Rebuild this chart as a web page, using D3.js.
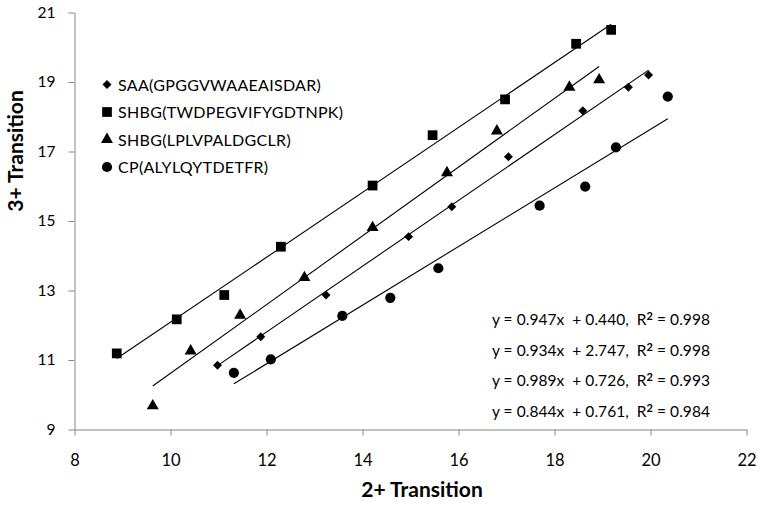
<!DOCTYPE html>
<html>
<head>
<meta charset="utf-8">
<script src="https://cdn.jsdelivr.net/npm/d3@7"></script>
<style>
  body { margin: 0; background: #fff; }
  svg { font-family: Lato, "Open Sans", sans-serif; }
</style>
</head>
<body>
<div id="chart"></div>
<script>
// series names (legend order)
const seriesNames = ["SAA(GPGGVWAAEAISDAR)", "SHBG(TWDPEGVIFYGDTNPK)", "SHBG(LPLVPALDGCLR)", "CP(ALYLQYTDETFR)"];
const shapes = ["diamond", "square", "triangle", "circle"];

// 2+ transition (x) / 3+ transition (y)
const saaX = [10.98, 11.88, 13.24, 14.96, 15.86, 17.04, 18.59, 19.54, 19.96];
const saaY = [10.85, 11.67, 12.87, 14.55, 15.41, 16.85, 18.17, 18.85, 19.20];
const twdX = [8.88, 10.13, 11.12, 12.30, 14.21, 15.46, 16.97, 18.45, 19.18];
const twdY = [11.19, 12.17, 12.87, 14.26, 16.02, 17.47, 18.50, 20.10, 20.50];
const lplX = [9.63, 10.42, 11.45, 12.79, 14.21, 15.76, 16.80, 18.31, 18.93];
const lplY = [9.68, 11.26, 12.29, 13.37, 14.81, 16.39, 17.59, 18.85, 19.06];
const cpX = [11.32, 12.09, 13.58, 14.58, 15.58, 17.69, 18.64, 19.28, 20.36];
const cpY = [10.63, 11.02, 12.27, 12.79, 13.64, 15.44, 15.99, 17.12, 18.58];

// linear fits
const slopes = [0.947, 0.934, 0.989, 0.844];
const intercepts = [0.440, 2.747, 0.726, 0.761];
const r2 = ["0.998", "0.998", "0.993", "0.984"];

const xTicks = [8, 10, 12, 14, 16, 18, 20, 22];
const yTicks = [9, 11, 13, 15, 17, 19, 21];

const series = [
  { xs: saaX, ys: saaY },
  { xs: twdX, ys: twdY },
  { xs: lplX, ys: lplY },
  { xs: cpX, ys: cpY }
];

const W = 762, H = 505;
const svg = d3.select("#chart").append("svg")
  .attr("width", W).attr("height", H);

const x = d3.scaleLinear().domain([8, 22]).range([74.5, 746.5]);
const y = d3.scaleLinear().domain([9, 21]).range([429.5, 12.5]);

const axisColor = "#868686";

// x axis
const gx = svg.append("g")
  .attr("transform", `translate(0,${y(9)})`)
  .call(d3.axisBottom(x).tickValues(xTicks).tickSize(6).tickPadding(19).tickSizeOuter(0));
gx.select(".domain").attr("stroke", axisColor);
gx.selectAll(".tick line").attr("stroke", axisColor);
gx.selectAll("text").attr("font-size", 16.5).attr("fill", "#000").attr("font-family", "Lato");

// y axis
const gy = svg.append("g")
  .attr("transform", `translate(${x(8)},0)`)
  .call(d3.axisLeft(y).tickValues(yTicks).tickSize(6).tickPadding(13).tickSizeOuter(0));
gy.select(".domain").attr("stroke", axisColor);
gy.selectAll(".tick line").attr("stroke", axisColor);
gy.selectAll("text").attr("font-size", 15.5).attr("fill", "#000").attr("font-family", "Lato");

// axis titles
svg.append("text")
  .attr("x", 422).attr("y", 497)
  .attr("text-anchor", "middle")
  .attr("font-size", 21).attr("font-weight", "bold")
  .text("2+ Transition");

svg.append("text")
  .attr("transform", "translate(23,151) rotate(-90)")
  .attr("text-anchor", "middle")
  .attr("font-size", 21).attr("font-weight", "bold")
  .text("3+ Transition");

function symbolFor(shape) {
  if (shape === "diamond") return d3.symbol().type(d3.symbolSquare).size(40)();
  if (shape === "square") return d3.symbol().type(d3.symbolSquare).size(95)();
  if (shape === "triangle") return d3.symbol().type(d3.symbolTriangle).size(62)();
  return d3.symbol().type(d3.symbolCircle).size(82)();
}

// trend lines
series.forEach((s, i) => {
  const x0 = d3.min(s.xs), x1 = d3.max(s.xs);
  svg.append("line")
    .attr("x1", x(x0)).attr("y1", y(slopes[i] * x0 + intercepts[i]))
    .attr("x2", x(x1)).attr("y2", y(slopes[i] * x1 + intercepts[i]))
    .attr("stroke", "#000").attr("stroke-width", 1.1);
});

// points
series.forEach((s, i) => {
  svg.append("g").selectAll("path")
    .data(s.xs.map((v, j) => [v, s.ys[j]]))
    .enter().append("path")
    .attr("d", symbolFor(shapes[i]))
    .attr("transform", d => `translate(${x(d[0])},${y(d[1])})` + (shapes[i] === "diamond" ? " rotate(45)" : ""))
    .attr("fill", "#000");
});

// legend
const legend = svg.append("g");
seriesNames.forEach((name, i) => {
  const ly = 84.5 + i * 27.5;
  legend.append("path")
    .attr("d", symbolFor(shapes[i]))
    .attr("transform", `translate(107,${ly})` + (shapes[i] === "diamond" ? " rotate(45)" : ""))
    .attr("fill", "#000");
  legend.append("text")
    .attr("x", 118).attr("y", ly + 6)
    .attr("font-size", 16)
    .attr("letter-spacing", 0.3)
    .text(name);
});

// equations
slopes.forEach((m, i) => {
  const t = svg.append("text")
    .attr("x", 710).attr("y", 325 + i * 30.5)
    .attr("text-anchor", "end")
    .attr("font-size", 15.5)
    .attr("letter-spacing", 0.05)
    .style("white-space", "pre");
  t.append("tspan").text(`y = ${m.toFixed(3)}x  + ${intercepts[i].toFixed(3)},  R`);
  t.append("tspan").attr("dy", -5).attr("font-size", 11).attr("font-weight", "bold").text("2");
  t.append("tspan").attr("dy", 5).text(` = ${r2[i]}`);
});
</script>
</body>
</html>
